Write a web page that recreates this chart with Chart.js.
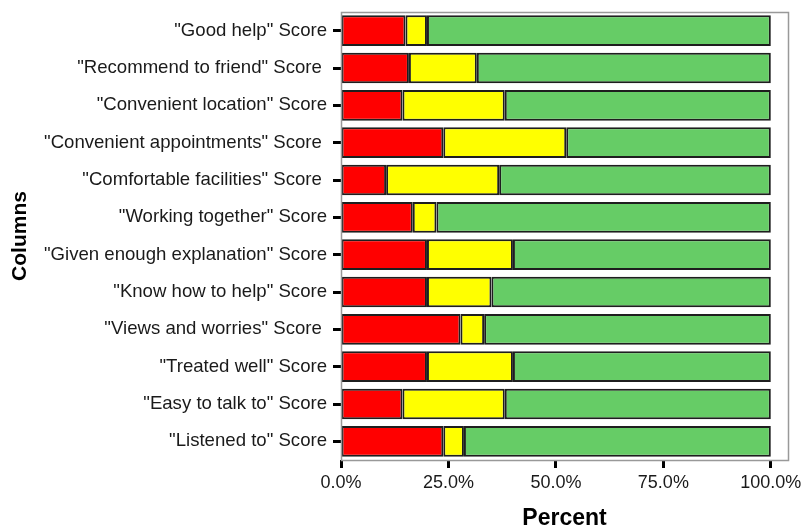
<!DOCTYPE html>
<html>
<head>
<meta charset="utf-8">
<script src="https://cdn.jsdelivr.net/npm/chart.js@4/dist/chart.umd.min.js"></script>
<style>
html,body{margin:0;padding:0;background:#fff;}
#wrap{width:806px;height:532px;position:relative;}
</style>
</head>
<body>
<div id="wrap"><canvas id="c" width="806" height="532"></canvas></div>
<script>
const categories = [
  '"Good help" Score',
  '"Recommend to friend" Score ',
  '"Convenient location" Score',
  '"Convenient appointments" Score ',
  '"Comfortable facilities" Score ',
  '"Working together" Score',
  '"Given enough explanation" Score',
  '"Know how to help" Score',
  '"Views and worries" Score ',
  '"Treated well" Score',
  '"Easy to talk to" Score',
  '"Listened to" Score'
];
const redValues    = [15.0, 15.8, 14.3, 23.8, 10.5, 16.7, 20.0, 20.0, 27.8, 20.0, 14.3, 23.8];
const yellowValues = [ 5.0, 15.8, 23.8, 28.6, 26.3,  5.5, 20.0, 15.0,  5.5, 20.0, 23.8,  4.8];
const greenValues  = [80.0, 68.4, 61.9, 47.6, 63.2, 77.8, 60.0, 65.0, 66.7, 60.0, 61.9, 71.4];
const xTickValues  = [0, 25, 50, 75, 100];

const FONT = '"Liberation Sans", Arial, Helvetica, sans-serif';

const framePlugin = {
  id: 'frame',
  afterDatasetsDraw(chart) {
    const a = chart.chartArea, ctx = chart.ctx;
    ctx.save();
    ctx.strokeStyle = '#999999';
    ctx.lineWidth = 1.5;
    ctx.strokeRect(Math.round(a.left) + 0.5, Math.round(a.top) + 0.5, Math.round(a.right - a.left), Math.round(a.bottom - a.top));
    ctx.restore();
  }
};

const mk = (label, data, color) => ({
  label, data, backgroundColor: color, borderColor: '#1e1e1e', borderWidth: 2,
  borderSkipped: false, barPercentage: 0.82, categoryPercentage: 1.0
});

new Chart(document.getElementById('c'), {
  type: 'bar',
  data: {
    labels: categories,
    datasets: [
      mk('Red', redValues, '#FF0000'),
      mk('Yellow', yellowValues, '#FFFF00'),
      mk('Green', greenValues, '#66CC66')
    ]
  },
  options: {
    indexAxis: 'y',
    responsive: false,
    animation: false,
    layout: { padding: { top: 12, right: 17, left: 0, bottom: 0 } },
    plugins: { legend: { display: false }, tooltip: { enabled: false } },
    scales: {
      x: {
        stacked: true,
        min: 0, max: 104,
        afterBuildTicks(scale) { scale.ticks = xTickValues.map(v => ({ value: v })); },
        afterFit(scale) { scale.height = 72; },
        border: { display: false },
        grid: { drawOnChartArea: false, drawTicks: true, tickLength: 8, tickWidth: 3, tickColor: '#000' },
        ticks: {
          padding: 4, color: '#1a1a1a', maxRotation: 0,
          font: { family: FONT, size: 18 },
          callback: v => Number(v).toFixed(1) + '%'
        },
        title: {
          display: true, text: 'Percent', color: '#000',
          font: { family: FONT, size: 23, weight: 'bold' },
          padding: { top: 0, bottom: 0 }
        }
      },
      y: {
        stacked: true,
        afterFit(scale) { scale.width = 341; scale.paddingTop = 0; scale.paddingBottom = 0; },
        border: { display: false },
        grid: { offset: false, drawOnChartArea: false, drawTicks: true, tickLength: 8, tickWidth: 3, tickColor: '#000' },
        ticks: {
          padding: 6, color: '#1a1a1a', autoSkip: false,
          font: { family: FONT, size: 18.6 }
        },
        title: {
          display: true, text: 'Columns', color: '#000',
          font: { family: FONT, size: 21, weight: 'bold' },
          padding: { top: 8, bottom: 0 }
        }
      }
    }
  },
  plugins: [framePlugin]
});
</script>
</body>
</html>
